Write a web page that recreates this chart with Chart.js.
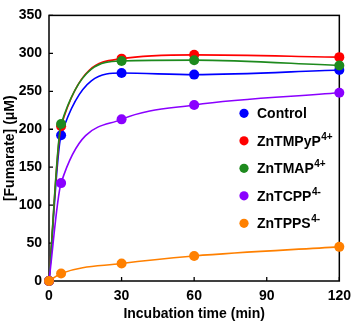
<!DOCTYPE html>
<html><head><meta charset="utf-8">
<script src="https://cdn.jsdelivr.net/npm/chart.js@4"></script>
<style>html,body{margin:0;padding:0;background:#fff}#wrap{width:358px;height:324px;position:relative}</style>
</head><body><div id="wrap"><canvas id="c"></canvas></div>
<script>
const times = [0, 5, 30, 60, 120];
const control = [0, 192, 274, 272, 278];
const tmpyp = [0, 204, 293, 298, 295];
const tmap = [0, 207, 290, 291, 284];
const tcpp = [0, 129, 213, 232, 248];
const tpps = [0, 10, 23, 33, 45];
const seriesNames = ['Control', 'ZnTMPyP', 'ZnTMAP', 'ZnTCPP', 'ZnTPPS'];
const seriesSup = ['', '4+', '4+', '4-', '4-'];
const seriesColors = ['#0000FF', '#FF0000', '#1E8A1E', '#8A00FF', '#FF8000'];
const xTicks = [0, 30, 60, 90, 120];
const yTicks = [0, 50, 100, 150, 200, 250, 300, 350];
const xTitle = 'Incubation time (min)';
const yTitle = '[Fumarate] (\u03BCM)';

const allValues = [control, tmpyp, tmap, tcpp, tpps];
const FONT = 'Arial, "Liberation Sans", sans-serif';

const datasets = allValues.map((vals, i) => ({
  label: seriesNames[i] + seriesSup[i],
  data: times.map((t, j) => ({x: t, y: vals[j]})),
  borderColor: seriesColors[i],
  backgroundColor: seriesColors[i],
  pointBackgroundColor: seriesColors[i],
  pointBorderColor: seriesColors[i],
  pointRadius: 5,
  pointBorderWidth: 0,
  borderWidth: 1.6,
  showLine: true,
  cubicInterpolationMode: 'monotone',
  clip: false,
  order: allValues.length - i
}));

const framePlugin = {
  id: 'frame',
  beforeDatasetsDraw(chart) {
    const {ctx, chartArea: a, scales} = chart;
    ctx.save();
    ctx.strokeStyle = '#000';
    ctx.lineWidth = 1.5;
    ctx.strokeRect(a.left, a.top, a.right - a.left, a.bottom - a.top);
    ctx.lineWidth = 1.3;
    ctx.beginPath();
    xTicks.forEach(v => {
      const x = scales.x.getPixelForValue(v);
      ctx.moveTo(x, a.bottom); ctx.lineTo(x, a.bottom - 4);
    });
    yTicks.forEach(v => {
      const y = scales.y.getPixelForValue(v);
      ctx.moveTo(a.left, y); ctx.lineTo(a.left + 4, y);
    });
    ctx.stroke();
    ctx.restore();
  },
  afterDraw(chart) {
    const {ctx} = chart;
    ctx.save();
    const mx = 244, tx = 257, y0 = 113.3, dy = 27.5;
    seriesNames.forEach((name, i) => {
      const y = y0 + i * dy;
      ctx.fillStyle = seriesColors[i];
      ctx.beginPath(); ctx.arc(mx, y, 4.6, 0, Math.PI * 2); ctx.fill();
      ctx.fillStyle = '#000';
      ctx.font = 'bold 14px ' + FONT;
      ctx.textBaseline = 'middle';
      ctx.textAlign = 'left';
      ctx.fillText(name, tx, y + 1);
      if (seriesSup[i]) {
        const w = ctx.measureText(name).width;
        ctx.font = 'bold 10px ' + FONT;
        ctx.fillText(seriesSup[i], tx + w + 0.5, y - 4);
      }
    });
    ctx.restore();
  }
};

const tickFont = {family: FONT, size: 14, weight: 'bold'};

new Chart(document.getElementById('c'), {
  type: 'scatter',
  data: {datasets},
  options: {
    responsive: true,
    maintainAspectRatio: false,
    animation: false,
    devicePixelRatio: 1,
    layout: {padding: {top: 7, right: 14, left: 0, bottom: 0}},
    plugins: {legend: {display: false}, tooltip: {enabled: false}},
    scales: {
      x: {
        type: 'linear', min: 0, max: 120,
        afterBuildTicks: s => { s.ticks = xTicks.map(v => ({value: v})); },
        afterFit: s => { s.height = 43; },
        grid: {display: false, drawTicks: false},
        border: {display: false},
        ticks: {font: tickFont, color: '#000', padding: 7, maxRotation: 0},
        title: {display: true, text: xTitle, font: tickFont, color: '#000', padding: {top: 0, bottom: 1}}
      },
      y: {
        type: 'linear', min: 0, max: 350,
        afterBuildTicks: s => { s.ticks = yTicks.map(v => ({value: v})); },
        afterFit: s => { s.width = 49; },
        grid: {display: false, drawTicks: false},
        border: {display: false},
        ticks: {font: tickFont, color: '#000', padding: 7},
        title: {display: true, text: yTitle, font: tickFont, color: '#000', padding: {top: 2, bottom: 0}}
      }
    }
  },
  plugins: [framePlugin]
});
</script>
</body></html>
